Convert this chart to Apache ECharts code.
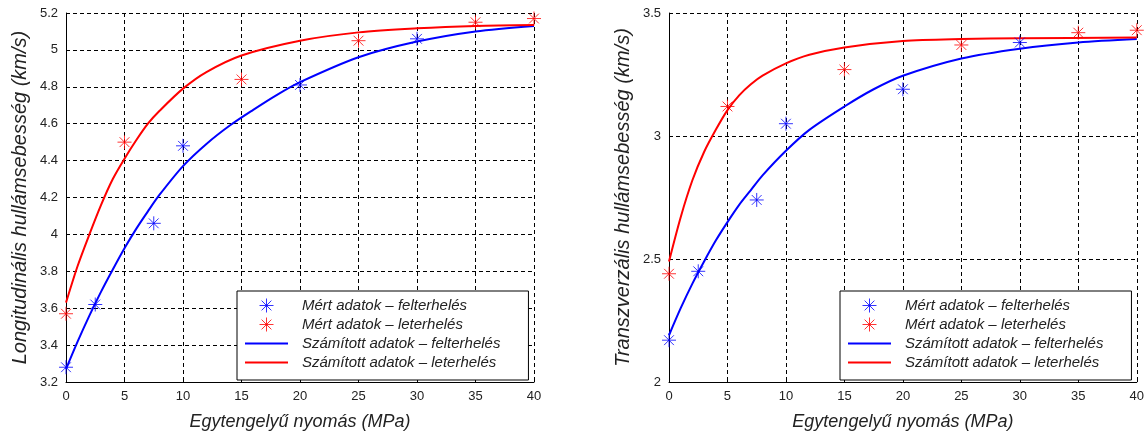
<!DOCTYPE html>
<html>
<head>
<meta charset="utf-8">
<script src="https://cdn.jsdelivr.net/npm/echarts@6/dist/echarts.min.js"></script>
<style>
  html, body { margin: 0; padding: 0; background: #fff; }
  #chart { width: 1147px; height: 436px; }
</style>
</head>
<body>
<div id="chart"></div>
<script>
// legend / series names
const nameMertFel = 'Mért adatok – felterhelés';
const nameMertLe = 'Mért adatok – leterhelés';
const nameSzamFel = 'Számított adatok – felterhelés';
const nameSzamLe = 'Számított adatok – leterhelés';

const xTicks = [0, 5, 10, 15, 20, 25, 30, 35, 40];

// left: longitudinal wave velocity (km/s)
const longFelX = [0, 2.5, 7.5, 10, 20, 30];
const longFelY = [3.28, 3.62, 4.06, 4.48, 4.81, 5.06];
const longLeX = [0, 5, 15, 25, 35, 40];
const longLeY = [3.57, 4.50, 4.84, 5.05, 5.15, 5.17];
const longFelCurveX = [0, 1, 2, 3, 4, 5, 6, 7, 8, 10, 12, 14, 16, 18, 20, 25, 30, 35, 40];
const longFelCurveY = [3.27, 3.42, 3.56, 3.69, 3.81, 3.925, 4.03, 4.125, 4.215, 4.37, 4.49, 4.59, 4.675, 4.755, 4.825, 4.96, 5.045, 5.10, 5.13];
const longLeCurveX = [0, 1, 2, 3, 4, 5, 6, 7, 8, 10, 12, 15, 20, 25, 30, 35, 40];
const longLeCurveY = [3.63, 3.83, 4.00, 4.16, 4.30, 4.41, 4.51, 4.60, 4.67, 4.79, 4.88, 4.97, 5.05, 5.095, 5.117, 5.13, 5.135];

// right: transverse wave velocity (km/s)
const transFelX = [0, 2.5, 7.5, 10, 20, 30];
const transFelY = [2.17, 2.45, 2.74, 3.05, 3.19, 3.38];
const transLeX = [0, 5, 15, 25, 35, 40];
const transLeY = [2.44, 3.12, 3.27, 3.37, 3.42, 3.43];
const transFelCurveX = [0, 1, 2, 3, 4, 5, 6, 7, 8, 10, 12, 15, 17.5, 20, 25, 30, 35, 40];
const transFelCurveY = [2.19, 2.30, 2.40, 2.49, 2.575, 2.65, 2.72, 2.78, 2.84, 2.94, 3.025, 3.12, 3.19, 3.245, 3.315, 3.355, 3.38, 3.394];
const transLeCurveX = [0, 1, 2, 3, 4, 5, 6, 7, 8, 10, 12, 15, 20, 25, 30, 40];
const transLeCurveY = [2.49, 2.67, 2.82, 2.935, 3.025, 3.105, 3.165, 3.21, 3.245, 3.295, 3.33, 3.36, 3.386, 3.394, 3.397, 3.40];

const FONT = '"Liberation Sans", Arial, sans-serif';
const STAR = 'path://M0,5L10,5M5,0L5,10M1.5,1.5L8.5,8.5M1.5,8.5L8.5,1.5';
const BAR = 'path://M0,0L43,0L43,2L0,2Z';

function pairs(xs, ys) {
	return xs.map(function (x, i) { return [x, ys[i]]; });
}

function xAxisFor(gridIndex) {
	return {
		type: 'value', gridIndex: gridIndex,
		min: xTicks[0], max: xTicks[xTicks.length - 1], interval: xTicks[1] - xTicks[0],
		name: 'Egytengelyű nyomás (MPa)', nameLocation: 'middle', nameGap: 31,
		nameTextStyle: { fontFamily: FONT, fontStyle: 'italic', fontSize: 18, color: '#222' },
		axisLine: { show: true, lineStyle: { color: '#000', width: 1 } },
		axisTick: { show: true, inside: true, length: 4, lineStyle: { color: '#000' } },
		axisLabel: { fontFamily: FONT, fontSize: 13, color: '#222', margin: 8 },
		splitLine: { show: true, lineStyle: { color: '#000', type: [4, 3], width: 1 } }
	};
}

function yAxisFor(gridIndex, name, min, max, interval) {
	return {
		type: 'value', gridIndex: gridIndex, min: min, max: max, interval: interval,
		name: name, nameLocation: 'middle', nameGap: 36,
		nameTextStyle: { fontFamily: FONT, fontStyle: 'italic', fontSize: 20, color: '#222' },
		axisLine: { show: true, lineStyle: { color: '#000', width: 1 } },
		axisTick: { show: true, inside: true, length: 4, lineStyle: { color: '#000' } },
		axisLabel: { fontFamily: FONT, fontSize: 13, color: '#222', margin: 8 },
		splitLine: { show: true, lineStyle: { color: '#000', type: [4, 3], width: 1 } }
	};
}

function scatterSeries(name, idx, xs, ys, color) {
	return {
		name: name, type: 'scatter', xAxisIndex: idx, yAxisIndex: idx,
		data: pairs(xs, ys), symbol: STAR, symbolSize: 14, z: 3,
		itemStyle: { color: color, borderColor: color, borderWidth: 1 }
	};
}

function curveSeries(name, idx, xs, ys, color) {
	return {
		name: name, type: 'line', xAxisIndex: idx, yAxisIndex: idx,
		data: pairs(xs, ys), symbol: 'none', smooth: 0.3, z: 2,
		lineStyle: { color: color, width: 2 }, itemStyle: { color: color }
	};
}

function legendFor(left) {
	return {
		orient: 'vertical', left: left, top: 291,
		data: [
			{ name: nameMertFel, icon: STAR, itemStyle: { borderWidth: 1 } },
			{ name: nameMertLe, icon: STAR, itemStyle: { borderWidth: 1 } },
			{ name: nameSzamFel, icon: BAR, itemStyle: { borderWidth: 0 } },
			{ name: nameSzamLe, icon: BAR, itemStyle: { borderWidth: 0 } }
		],
		itemWidth: 43, itemHeight: 14, itemGap: 4,
		padding: [7, 28, 10, 8],
		backgroundColor: '#fff', borderColor: '#000', borderWidth: 1, borderRadius: 0,
		selectedMode: false,
		textStyle: { fontFamily: FONT, fontStyle: 'italic', fontSize: 15, lineHeight: 14, color: '#222', padding: [0, 0, 0, 9] }
	};
}

const chart = echarts.init(document.getElementById('chart'), null, { renderer: 'canvas' });

chart.setOption({
	animation: false,
	backgroundColor: '#fff',
	grid: [
		{ left: 66, top: 13, width: 468, height: 369 },
		{ left: 669, top: 13, width: 470, height: 369 }
	],
	xAxis: [xAxisFor(0), xAxisFor(1)],
	yAxis: [
		yAxisFor(0, 'Longitudinális hullámsebesség (km/s)', 3.2, 5.2, 0.2),
		yAxisFor(1, 'Transzverzális hullámsebesség (km/s)', 2, 3.5, 0.5)
	],
	legend: [legendFor(237), legendFor(840)],
	series: [
		curveSeries(nameSzamFel, 0, longFelCurveX, longFelCurveY, '#0000ff'),
		curveSeries(nameSzamLe, 0, longLeCurveX, longLeCurveY, '#ff0000'),
		scatterSeries(nameMertFel, 0, longFelX, longFelY, '#0000ff'),
		scatterSeries(nameMertLe, 0, longLeX, longLeY, '#ff0000'),
		curveSeries(nameSzamFel, 1, transFelCurveX, transFelCurveY, '#0000ff'),
		curveSeries(nameSzamLe, 1, transLeCurveX, transLeCurveY, '#ff0000'),
		scatterSeries(nameMertFel, 1, transFelX, transFelY, '#0000ff'),
		scatterSeries(nameMertLe, 1, transLeX, transLeY, '#ff0000')
	]
});
</script>
</body>
</html>
